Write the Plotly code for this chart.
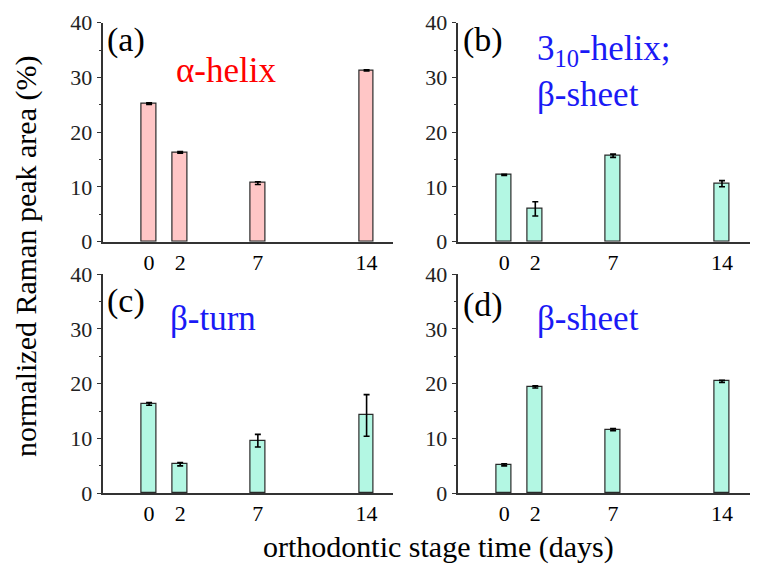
import plotly.graph_objects as go

days = [0, 2, 7, 14]
tick_labels = ["0", "2", "7", "14"]

alpha_helix = [25.2, 16.3, 10.7, 31.3]
alpha_helix_err = [0.15, 0.15, 0.25, 0.1]

helix310_sheet = [12.2, 6.0, 15.7, 10.6]
helix310_sheet_err = [0.1, 1.3, 0.3, 0.55]

beta_turn = [16.3, 5.3, 9.6, 14.2]
beta_turn_err = [0.25, 0.3, 1.15, 3.8]

beta_sheet = [5.2, 19.4, 11.6, 20.4]
beta_sheet_err = [0.2, 0.2, 0.2, 0.2]

W, H = 758, 567
OFF = 8  # page body margin offset
FONT = "Liberation Serif"
PINK = "#FFC6C6"
MINT = "#B3F7E3"
EDGE = "#2a2a2a"


def px(x):
    return (x - OFF) / W


def py(y):
    return 1 - (y - OFF) / H


fig = go.Figure()

panels = [
    (alpha_helix, alpha_helix_err, PINK, "x", "y", (102.5, 393), (22.7, 241.7), 15.7),
    (helix310_sheet, helix310_sheet_err, MINT, "x2", "y2", (457.5, 757), (22.7, 241.7), 16.25),
    (beta_turn, beta_turn_err, MINT, "x3", "y3", (102.5, 393), (274, 493.3), 15.7),
    (beta_sheet, beta_sheet_err, MINT, "x4", "y4", (457.5, 757), (274, 493.3), 16.25),
]

for i, (vals, errs, col, xa, ya, xp, yp, xmax) in enumerate(panels):
    fig.add_trace(go.Bar(
        x=days, y=vals, width=0.95,
        marker=dict(color=col, line=dict(color=EDGE, width=1.2)),
        error_y=dict(type="data", array=errs, visible=True, color="black",
                     thickness=1.6, width=3),
        xaxis=xa, yaxis=ya, showlegend=False,
    ))
    suffix = "" if i == 0 else str(i + 1)
    xdom = [px(xp[0]), min(px(xp[1]), 1.0)]
    ydom = [py(yp[1]), py(yp[0])]
    fig.layout["xaxis" + suffix] = dict(
        domain=xdom, range=[-3, xmax], anchor=ya, automargin=False,
        tickvals=days, ticktext=tick_labels, ticks="",
        showline=True, linecolor="#333333", linewidth=1.5,
        showgrid=False, zeroline=False,
        tickfont=dict(family=FONT, size=22, color="black"),
    )
    fig.layout["yaxis" + suffix] = dict(
        domain=ydom, range=[0, 40], anchor=xa, automargin=False,
        tickvals=[0, 10, 20, 30, 40], ticks="outside", ticklen=4,
        tickcolor="#333333", tickwidth=1.2,
        minor=dict(tickvals=[5, 15, 25, 35], ticks="outside", ticklen=2,
                   tickcolor="#333333", tickwidth=1.2),
        showline=True, linecolor="#333333", linewidth=1.5,
        showgrid=False, zeroline=False,
        tickfont=dict(family=FONT, size=22, color="#222222"),
    )


def ann(text, xpx, ypx, color="black", size=34, xanchor="left"):
    fig.add_annotation(
        text=text, x=px(xpx), y=py(ypx), xref="paper", yref="paper",
        xanchor=xanchor, yanchor="middle", showarrow=False,
        font=dict(family=FONT, size=size, color=color),
    )


BLUE = "#1a1aF5"
ann("(a)", 105, 40)
ann("α-helix", 174, 70, color="#FF0000", size=35)
ann("(b)", 461, 40)
ann("3<sub>10</sub>-helix;", 535, 50, color=BLUE, size=35)
ann("β-sheet", 535, 94, color=BLUE, size=35)
ann("(c)", 105, 301)
ann("β-turn", 168, 318, color=BLUE, size=35)
ann("(d)", 461, 305)
ann("β-sheet", 535, 318, color=BLUE, size=35)

fig.add_annotation(
    text="normalized Raman peak area (%)", x=px(26), y=py(257),
    xref="paper", yref="paper", textangle=-90, showarrow=False,
    xanchor="center", yanchor="middle",
    font=dict(family=FONT, size=30, color="black"),
)
fig.add_annotation(
    text="orthodontic stage time (days)", x=px(438), y=py(547),
    xref="paper", yref="paper", showarrow=False,
    xanchor="center", yanchor="middle",
    font=dict(family=FONT, size=30, color="black"),
)

fig.update_layout(
    width=W, height=H,
    margin=dict(l=0, r=0, t=0, b=0, autoexpand=False),
    paper_bgcolor="white", plot_bgcolor="white",
    bargap=0,
)

fig.write_html("out.html")
